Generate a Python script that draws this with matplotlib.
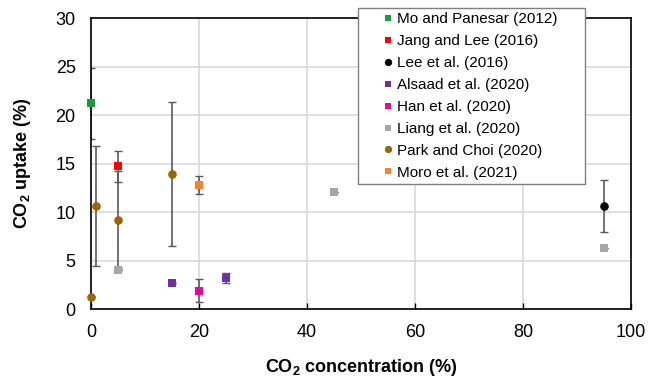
import matplotlib
matplotlib.use("Agg")
import matplotlib.pyplot as plt

plt.rcParams['font.family'] = ['Liberation Sans', 'DejaVu Sans']
plt.rcParams['mathtext.fontset'] = 'custom'
plt.rcParams['mathtext.rm'] = 'Liberation Sans'
plt.rcParams['mathtext.bf'] = 'Liberation Sans:bold'

# CO2 concentration (%), CO2 uptake (%), error (+/-)
studies = [
    "Mo and Panesar (2012)",
    "Jang and Lee (2016)",
    "Lee et al. (2016)",
    "Alsaad et al. (2020)",
    "Han et al. (2020)",
    "Liang et al. (2020)",
    "Park and Choi (2020)",
    "Moro et al. (2021)",
]
conc = [
    [0],
    [5],
    [95],
    [15, 25],
    [20],
    [5, 45, 95],
    [0, 1, 5, 15],
    [20],
]
uptake = [
    [21.2],
    [14.7],
    [10.6],
    [2.7, 3.2],
    [1.9],
    [4.0, 12.1, 6.3],
    [1.2, 10.6, 9.2, 13.9],
    [12.8],
]
err = [
    [3.7],
    [1.6],
    [2.65],
    [0.0, 0.5],
    [1.2],
    [0.0, 0.0, 0.0],
    [0.0, 6.2, 5.0, 7.45],
    [0.9],
]
colors = ["#1a9a3a", "#ff0000", "#000000", "#7030a0", "#e6079a",
          "#a6a6a6", "#996600", "#f7812e"]
markers = ["s", "s", "o", "s", "s", "s", "o", "s"]

fig = plt.figure(figsize=(6.48, 3.84), dpi=100)
ax = fig.add_axes([0.1404, 0.1953, 0.8334, 0.7577])

for name, x, y, e, c, m in zip(studies, conc, uptake, err, colors, markers):
    ax.errorbar(x, y, yerr=e, fmt="none", ecolor="#595959", elinewidth=1.2,
                capsize=3, capthick=1.0, zorder=2)
    ax.plot(x, y, linestyle="none", marker=m, color=c,
            markersize=5.6 if m == "s" else 6.2,
            markeredgewidth=0, label=name, zorder=3, clip_on=False)

ax.set_xlim(0, 100)
ax.set_ylim(0, 30)
ax.set_xticks(range(0, 101, 20))
ax.set_yticks(range(0, 31, 5))
ax.tick_params(axis="x", direction="in", length=4, width=1, labelsize=13, pad=11)
ax.tick_params(axis="y", length=0, labelsize=13, pad=11)
ax.grid(True, color="#d9d9d9", linewidth=1.2)
ax.set_axisbelow(True)
for s in ax.spines.values():
    s.set_color("black")
    s.set_linewidth(1.2)

ax.set_xlabel(r"$\mathbf{CO_2}$ concentration (%)", fontsize=13,
              fontweight="bold", labelpad=11)
ax.set_ylabel(r"$\mathbf{CO_2}$ uptake (%)", fontsize=13,
              fontweight="bold", labelpad=16)

# legend box stretched to a fixed width, handles set in from the left edge
leg = ax.legend(loc="upper left", bbox_to_anchor=(0.494, 1.036, 0.42, 0.0),
                mode="expand", fontsize=11,
                frameon=True, fancybox=False, edgecolor="#7f7f7f", framealpha=1,
                handlelength=3.4, handletextpad=-1.1, markerscale=0.85,
                labelspacing=0.52, borderpad=0.3, borderaxespad=0)
leg.get_frame().set_linewidth(1.0)
leg.set_zorder(5)

fig.savefig("out.png", dpi=100)
